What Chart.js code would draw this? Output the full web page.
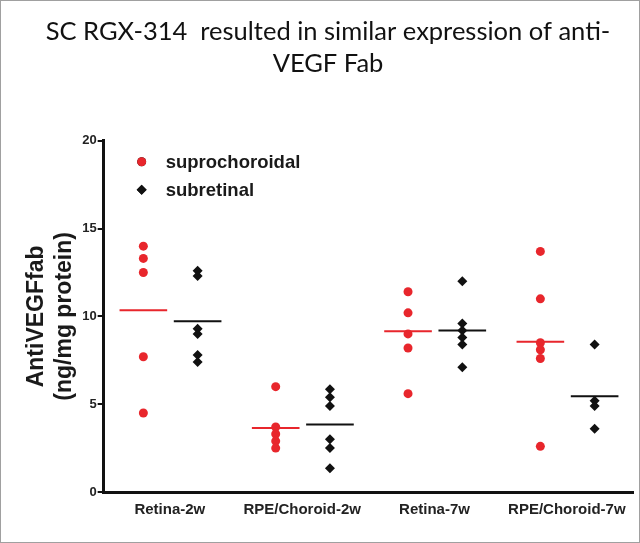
<!DOCTYPE html>
<html>
<head>
<meta charset="utf-8">
<script src="https://cdn.jsdelivr.net/npm/chart.js@4"></script>
<style>
  html, body { margin: 0; padding: 0; background: #fff; }
  #wrap { width: 640px; height: 543px; border: 1px solid #a0a0a0; box-sizing: border-box; }
  canvas { display: block; }
</style>
</head>
<body>
<div id="wrap"><canvas id="mainChart" width="638" height="541"></canvas></div>
<script>
// data
const categories = ["Retina-2w", "RPE/Choroid-2w", "Retina-7w", "RPE/Choroid-7w"];
const supraValues = [
  [14.0, 13.3, 12.5, 7.7, 4.5],
  [6.0, 3.7, 3.3, 2.9, 2.5],
  [11.4, 10.2, 9.0, 8.2, 5.6],
  [13.7, 11.0, 8.5, 8.1, 7.6, 2.6]
];
const subValues = [
  [12.6, 12.3, 9.3, 9.0, 7.8, 7.4],
  [5.85, 5.4, 4.9, 3.0, 2.5, 1.35],
  [12.0, 9.6, 9.2, 8.8, 8.4, 7.1],
  [8.4, 5.2, 4.9, 3.6]
];
const supraMeans = [10.35, 3.65, 9.15, 8.55];
const subMeans = [9.72, 3.85, 9.2, 5.45];
const yTicks = [0, 5, 10, 15, 20];

const RED = "#e8262c";
const BLACK = "#111111";
const SUPRA_OFF = -0.2;
const SUB_OFF = 0.21;
const HALF = 0.18;

function groupPoints(groups, off) {
  const pts = [];
  groups.forEach((vals, i) => vals.forEach(v => pts.push({ x: i + 1 + off, y: v })));
  return pts;
}

function meanSegments(means, off) {
  const pts = [];
  means.forEach((m, i) => {
    pts.push({ x: i + 1 + off - HALF, y: m });
    pts.push({ x: i + 1 + off + HALF, y: m });
    pts.push({ x: i + 1 + off, y: null });
  });
  return pts;
}

// legend drawn inside the plot, top-left
const innerLegend = {
  id: "innerLegend",
  afterDraw(chart) {
    const { ctx, chartArea } = chart;
    const items = chart.data.datasets.filter(d => d.inLegend);
    ctx.save();
    ctx.font = "bold 18.5px 'Liberation Sans', Arial, sans-serif";
    ctx.textBaseline = "middle";
    items.forEach((d, i) => {
      const x = chartArea.left + 38;
      const y = chartArea.top + 21 + i * 28;
      Chart.helpers.drawPoint(ctx, {
        pointStyle: d.pointStyle,
        radius: d.pointRadius,
        borderWidth: 0
      }, x, y);
      ctx.fillStyle = d.backgroundColor;
      ctx.fill();
      ctx.fillStyle = "#1a1a1a";
      ctx.fillText(d.label, x + 24, y + 1);
    });
    ctx.restore();
  }
};

const ctx = document.getElementById("mainChart").getContext("2d");

new Chart(ctx, {
  type: "scatter",
  data: {
    datasets: [
      {
        label: "suprochoroidal",
        inLegend: true,
        data: groupPoints(supraValues, SUPRA_OFF),
        pointStyle: "circle",
        pointRadius: 4.5,
        backgroundColor: RED,
        borderWidth: 0
      },
      {
        label: "subretinal",
        inLegend: true,
        data: groupPoints(subValues, SUB_OFF),
        pointStyle: "rectRot",
        pointRadius: 5,
        backgroundColor: BLACK,
        borderWidth: 0
      },
      {
        label: "supra mean",
        data: meanSegments(supraMeans, SUPRA_OFF),
        showLine: true,
        spanGaps: false,
        pointRadius: 0,
        borderColor: RED,
        borderWidth: 2
      },
      {
        label: "sub mean",
        data: meanSegments(subMeans, SUB_OFF),
        showLine: true,
        spanGaps: false,
        pointRadius: 0,
        borderColor: BLACK,
        borderWidth: 2
      }
    ]
  },
  options: {
    responsive: false,
    animation: false,
    layout: {
      padding: { left: 22, right: 6, top: 0, bottom: 14 }
    },
    plugins: {
      legend: { display: false },
      tooltip: { enabled: false },
      title: {
        display: true,
        text: ["SC RGX-314  resulted in similar expression of anti-", "VEGF Fab"],
        color: "#111",
        font: { family: "Lato, 'Open Sans', sans-serif", size: 25.5, weight: "normal", lineHeight: 1.25 },
        padding: { top: 15, bottom: 61 }
      }
    },
    scales: {
      x: {
        type: "linear",
        min: 0.5,
        max: 4.5,
        afterBuildTicks: scale => {
          scale.ticks = categories.map((c, i) => ({ value: i + 1 }));
        },
        ticks: {
          callback: v => categories[v - 1],
          color: "#222",
          padding: 9,
          maxRotation: 0,
          font: { family: "'Liberation Sans', Arial, sans-serif", size: 15, weight: "bold" }
        },
        grid: { display: false, drawTicks: false },
        border: { display: true, color: BLACK, width: 3 }
      },
      y: {
        min: 0,
        max: 20,
        afterBuildTicks: scale => {
          scale.ticks = yTicks.map(v => ({ value: v }));
        },
        ticks: {
          color: "#222",
          padding: 1,
          font: { family: "'Liberation Sans', Arial, sans-serif", size: 13, weight: "bold" }
        },
        grid: {
          drawOnChartArea: false,
          drawTicks: true,
          tickLength: 6,
          color: BLACK,
          lineWidth: 2
        },
        border: { display: true, color: BLACK, width: 3 },
        title: {
          display: true,
          text: ["AntiVEGFfab", "(ng/mg protein)"],
          color: "#1a1a1a",
          font: { family: "'Liberation Sans', Arial, sans-serif", size: 23, weight: "bold", lineHeight: 1.2 },
          padding: { top: 0, bottom: 3 }
        }
      }
    }
  },
  plugins: [innerLegend]
});
</script>
</body>
</html>
